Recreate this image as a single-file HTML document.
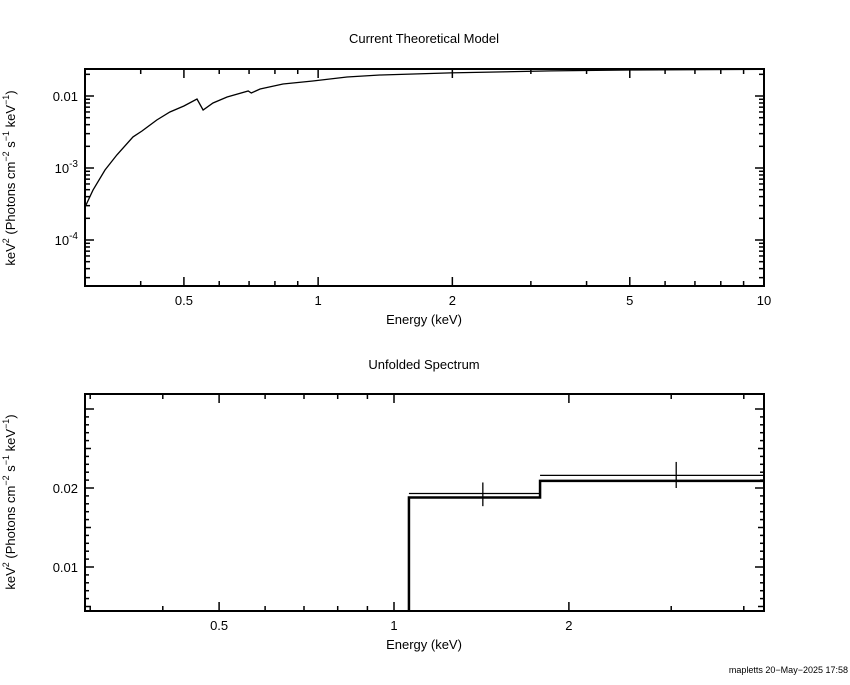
<!DOCTYPE html>
<html><head><meta charset="utf-8"><style>
body{margin:0;background:#fff}
svg text{font-family:"Liberation Sans",sans-serif;fill:#000}
</style></head><body>
<svg id="c" width="850" height="680" xmlns="http://www.w3.org/2000/svg"></svg>
<script>
// Top panel: model curve
const modelEnergy=[0.3015,0.3126,0.3327,0.3538,0.3844,0.4026,0.4347,0.465,0.5,0.535,0.552,0.581,0.625,0.697,0.708,0.741,0.834,0.973,1.161,1.376,1.98,3.33,5.0,10];
const modelFlux=[3.06e-4,4.94e-4,9.38e-4,1.52e-3,2.70e-3,3.27e-3,4.64e-3,6.0e-3,7.26e-3,9.08e-3,6.39e-3,8.0e-3,9.68e-3,0.01173,0.01101,0.0125,0.01468,0.01616,0.01837,0.01957,0.0209,0.0223,0.0230,0.0234];
const topXTicks=[0.5,1,2,5,10];
const topXTickLabels=["0.5","1","2","5","10"];
// Bottom panel: unfolded spectrum
const binLo=[1.061,1.784];
const binHi=[1.784,4.33];
const modelBin=[0.0188,0.0209];
const dataBin=[0.0193,0.0216];
const dataX=[1.422,3.06];
const dataLo=[0.0177,0.0200];
const dataHi=[0.0207,0.0233];
const botXTicks=[0.5,1,2];
const botXTickLabels=["0.5","1","2"];
const botYTicks=[0.01,0.02];
const botYTickLabels=["0.01","0.02"];

const NS="http://www.w3.org/2000/svg",svg=document.getElementById('c');
function el(t,a,txt){const e=document.createElementNS(NS,t);for(const k in a)e.setAttribute(k,a[k]);if(txt!==undefined)e.textContent=txt;svg.appendChild(e);return e;}
const L=85,R=764;
const tT=69,tB=286;
const txS=v=>L+(R-L)*Math.log10(v/0.3)/Math.log10(10/0.3);
const tyS=v=>96-72*(Math.log10(v)+2);
const bT=394,bB=611;
const bxS=v=>394+581*Math.log10(v);
const byS=v=>488-7900*(v-0.02);

let f=el('rect',{x:L,y:tT,width:R-L,height:tB-tT,fill:'none',stroke:'#000','stroke-width':2});

f=el('rect',{x:L,y:bT,width:R-L,height:bB-bT,fill:'none',stroke:'#000','stroke-width':2});


for(let d=-1;d<=1;d++)for(let m=1;m<10;m++){const v=m*Math.pow(10,d);if(v<0.3||v>10)continue;const x=txS(v),len=(m==1||m==5||m==2)?9:5;
 el('line',{x1:x,y1:tB,x2:x,y2:tB-len,stroke:'#000','stroke-width':1.5});el('line',{x1:x,y1:tT,x2:x,y2:tT+len,stroke:'#000','stroke-width':1.5});}
topXTicks.forEach((v,i)=>{const t=el('text',{x:txS(v),y:tB+19,'text-anchor':'middle','font-size':13},topXTickLabels[i]);
 });
for(let d=-5;d<=-2;d++)for(let m=1;m<10;m++){const v=m*Math.pow(10,d);const y=tyS(v);if(y<tT||y>tB)continue;const len=m==1?9:5;
 el('line',{x1:L,y1:y,x2:L+len,y2:y,stroke:'#000','stroke-width':1.5});el('line',{x1:R,y1:y,x2:R-len,y2:y,stroke:'#000','stroke-width':1.5});}
[["0.01",-2,false],["10","-3",true],["10","-4",true]].forEach((a,i)=>{const y=tyS(Math.pow(10,-2-i))+5;
 const t=el('text',{x:78,y:y,'text-anchor':'end','font-size':13});
 if(!a[2])t.textContent=a[0];else{t.innerHTML='10<tspan dy="-6" font-size="10">'+a[1]+'</tspan>';}});

let pts=modelEnergy.map((e,i)=>txS(e).toFixed(1)+','+tyS(modelFlux[i]).toFixed(1)).join(' ');
f=el('polyline',{points:pts,fill:'none',stroke:'#000','stroke-width':1.3});


let t=el('text',{x:424,y:43,'text-anchor':'middle','font-size':13},'Current Theoretical Model');

t=el('text',{x:424,y:324,'text-anchor':'middle','font-size':13},'Energy (keV)');

const yt='keV<tspan dy="-6" font-size="9">2</tspan><tspan dy="6"> (Photons cm</tspan><tspan dy="-6" font-size="9">−2</tspan><tspan dy="6"> s</tspan><tspan dy="-6" font-size="9">−1</tspan><tspan dy="6"> keV</tspan><tspan dy="-6" font-size="9">−1</tspan><tspan dy="6">)</tspan>';
t=el('text',{x:0,y:0,transform:'translate(15,178) rotate(-90)','text-anchor':'middle','font-size':13});t.innerHTML=yt;


for(let d=-1;d<=0;d++)for(let m=1;m<10;m++){const v=m*Math.pow(10,d);const x=bxS(v);if(x<L||x>R)continue;const len=(m==1||m==5||m==2)?9:5;
 el('line',{x1:x,y1:bB,x2:x,y2:bB-len,stroke:'#000','stroke-width':1.5});el('line',{x1:x,y1:bT,x2:x,y2:bT+len,stroke:'#000','stroke-width':1.5});}
for(let v=0.005;v<=0.031;v+=0.001){const y=byS(v);if(y<bT||y>bB)continue;const big=Math.abs(v*100-Math.round(v*100))<1e-6;const mid=Math.abs(v*200-Math.round(v*200))<1e-6;const len=big?9:(mid?6:4);
 el('line',{x1:L,y1:y,x2:L+len,y2:y,stroke:'#000','stroke-width':1.5});el('line',{x1:R,y1:y,x2:R-len,y2:y,stroke:'#000','stroke-width':1.5});}
botXTicks.forEach((v,i)=>{const t=el('text',{x:bxS(v),y:bB+19,'text-anchor':'middle','font-size':13},botXTickLabels[i]);
 });
botYTicks.forEach((v,i)=>{const t=el('text',{x:78,y:byS(v)+5,'text-anchor':'end','font-size':13},botYTickLabels[i]);
 });

let d='M'+bxS(binLo[0])+','+bB;
binLo.forEach((lo,i)=>{d+=' L'+bxS(lo)+','+byS(modelBin[i])+' L'+bxS(binHi[i])+','+byS(modelBin[i]);});
f=el('path',{d:d,fill:'none',stroke:'#000','stroke-width':2.5});

binLo.forEach((lo,i)=>{
 const g=el('line',{x1:bxS(lo),y1:byS(dataBin[i]),x2:bxS(binHi[i]),y2:byS(dataBin[i]),stroke:'#000','stroke-width':1.3});
 
 const e=el('line',{x1:bxS(dataX[i]),y1:byS(dataLo[i]),x2:bxS(dataX[i]),y2:byS(dataHi[i]),stroke:'#000','stroke-width':1.3});
 
});
t=el('text',{x:424,y:369,'text-anchor':'middle','font-size':13},'Unfolded Spectrum');

t=el('text',{x:424,y:649,'text-anchor':'middle','font-size':13},'Energy (keV)');

t=el('text',{x:0,y:0,transform:'translate(15,502) rotate(-90)','text-anchor':'middle','font-size':13});t.innerHTML=yt;

t=el('text',{x:848,y:673,'text-anchor':'end','font-size':9},'mapletts 20−May−2025 17:58');

</script>
</body></html>
